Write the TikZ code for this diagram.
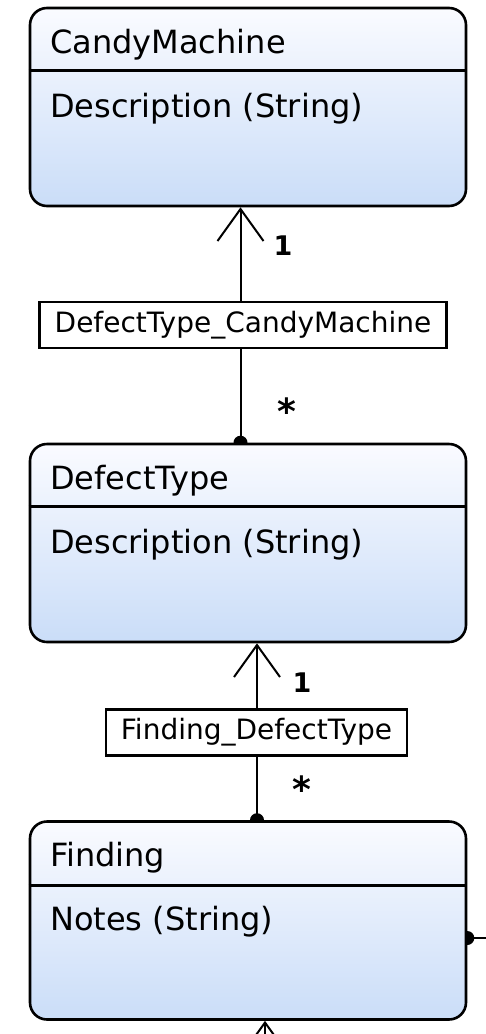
\documentclass[tikz,border=0pt]{standalone}
\usepackage{fontspec}
\setmainfont{DejaVu Sans}
\usetikzlibrary{arrows.meta,backgrounds}
\definecolor{boxtop}{RGB}{250,251,255}
\definecolor{boxbot}{RGB}{202,221,248}
\tikzset{
  entity/.style={draw, line width=2.6pt, rectangle, rounded corners=17pt,
    minimum width=436pt, minimum height=198pt, inner sep=0pt,
    top color=boxtop, bottom color=boxbot},
  divider/.style={line width=2.6pt},
  etext/.style={anchor=base west, inner sep=0pt, font=\fontsize{32}{37}\selectfont},
  assoc/.style={line width=2pt},
  assocname/.style={draw, line width=2.5pt, fill=white, inner xsep=15pt, inner ysep=0pt,
    minimum height=46pt, font=\fontsize{28}{33}\selectfont},
  mult/.style={inner sep=0pt, anchor=base, font=\bfseries\fontsize{27}{31}\selectfont},
  star/.style={inner sep=0pt, anchor=base, font=\bfseries\fontsize{36}{40}\selectfont},
  navtip/.style={-{Straight Barb[length=32pt,width=46pt]}},
  enddot/.style={radius=7pt},
}
\begin{document}
\begin{tikzpicture}[x=1pt,y=-1pt]
\useasboundingbox (0,0) rectangle (485,1034);

% entities
\node[entity] (cm) at (248,107) {};
\node[entity] (dt) at (248,543) {};
\node[entity] (fi) at (248,920.5) {};

\draw[divider] ([yshift=-64pt]cm.north west) -- ([yshift=-64pt]cm.north east);
\draw[divider] ([yshift=-64pt]dt.north west) -- ([yshift=-64pt]dt.north east);
\draw[divider] ([yshift=-65pt]fi.north west) -- ([yshift=-65pt]fi.north east);

\node[etext] (cmname) at (50,53) {CandyMachine};
\node[etext] (cmdesc) at (50,117) {Description (String)};
\node[etext] (dtname) at (50,489) {DefectType};
\node[etext] (dtdesc) at (50,553) {Description (String)};
\node[etext] (finame) at (50,866) {Finding};
\node[etext] (finotes) at (50,930) {Notes (String)};

% association names
\node[assocname] (l1) at (243,325) {DefectType\_CandyMachine};
\node[assocname] (l2) at (256.5,732.5) {Finding\_DefectType};

% multiplicities
\node[mult] (m1a) at (283,255) {1};
\node[star] (m1b) at (287,424) {*};
\node[mult] (m2a) at (302,692) {1};
\node[star] (m2b) at (302,802) {*};

% connectors
\coordinate (c1) at ([xshift=-7.5pt]cm.south);
\coordinate (c2) at ([xshift=9pt]dt.south);
\coordinate (c3) at ([xshift=17pt]fi.south);
\coordinate (c4) at ([yshift=-17.5pt]fi.east);
\coordinate (rend) at (500,938);
\coordinate (bend) at (265,1070);

\begin{pgfonlayer}{background}
  \draw[assoc, navtip] (l1.north -| c1) -- (c1);
  \draw[assoc] (l1.south -| c1) -- (dt.north -| c1);
  \fill (dt.north -| c1) circle[enddot];

  \draw[assoc, navtip] (l2.north -| c2) -- (c2);
  \draw[assoc] (l2.south -| c2) -- (fi.north -| c2);
  \fill (fi.north -| c2) circle[enddot];

  \draw[assoc] (c4) -- (rend);
  \fill (c4) circle[enddot];

  \draw[assoc, navtip] (bend) -- (c3);
\end{pgfonlayer}
\end{tikzpicture}
\end{document}
